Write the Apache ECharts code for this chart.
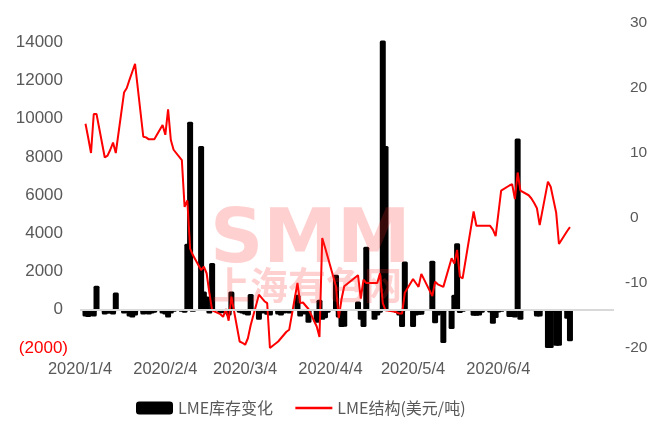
<!DOCTYPE html>
<html><head><meta charset="utf-8">
<script src="https://cdn.jsdelivr.net/npm/echarts@6/dist/echarts.min.js"></script>
<style>html,body{margin:0;padding:0;background:#fff}#c{width:671px;height:436px}</style>
</head><body><div id="c"></div>
<script>
// ---- data ----
const axisStart = '2020/1/4';
const axisEnd = '2020/7/16';
const xTickLabels = ['2020/1/4','2020/2/4','2020/3/4','2020/4/4','2020/5/4','2020/6/4'];

const dates = [
 '2020/1/6','2020/1/7','2020/1/8','2020/1/9','2020/1/10',
 '2020/1/13','2020/1/14','2020/1/15','2020/1/16','2020/1/17',
 '2020/1/20','2020/1/21','2020/1/22','2020/1/23','2020/1/24',
 '2020/1/27','2020/1/28','2020/1/29','2020/1/30','2020/1/31',
 '2020/2/3','2020/2/4','2020/2/5','2020/2/6','2020/2/7',
 '2020/2/10','2020/2/11','2020/2/12','2020/2/13','2020/2/14',
 '2020/2/17','2020/2/18','2020/2/19','2020/2/20','2020/2/21',
 '2020/2/24','2020/2/25','2020/2/26','2020/2/27','2020/2/28',
 '2020/3/2','2020/3/3','2020/3/4','2020/3/5','2020/3/6',
 '2020/3/9','2020/3/10','2020/3/11','2020/3/12','2020/3/13',
 '2020/3/16','2020/3/17','2020/3/18','2020/3/19','2020/3/20',
 '2020/3/23','2020/3/24','2020/3/25','2020/3/26','2020/3/27',
 '2020/3/30','2020/3/31','2020/4/1','2020/4/2','2020/4/3',
 '2020/4/6','2020/4/7','2020/4/8','2020/4/9',
 '2020/4/14','2020/4/15','2020/4/16','2020/4/17',
 '2020/4/20','2020/4/21','2020/4/22','2020/4/23','2020/4/24',
 '2020/4/27','2020/4/28','2020/4/29','2020/4/30','2020/5/1',
 '2020/5/4','2020/5/5','2020/5/6','2020/5/7',
 '2020/5/11','2020/5/12','2020/5/13','2020/5/14','2020/5/15',
 '2020/5/18','2020/5/19','2020/5/20','2020/5/21','2020/5/22',
 '2020/5/26','2020/5/27','2020/5/28','2020/5/29',
 '2020/6/1','2020/6/2','2020/6/3','2020/6/4','2020/6/5',
 '2020/6/8','2020/6/9','2020/6/10','2020/6/11','2020/6/12',
 '2020/6/15','2020/6/16','2020/6/17','2020/6/18','2020/6/19',
 '2020/6/22','2020/6/23','2020/6/24','2020/6/25','2020/6/26',
 '2020/6/29','2020/6/30'
];

// LME库存变化 (tonnes)
const stockChange = [
 -350,-380,-300,-350,1250,
 -250,-200,-200,-250,900,
 -200,-150,-350,-400,-300,
 -250,-200,-250,-200,-150,
 -200,-250,-400,-200,-100,
 -100,-150,3450,9830,-100,
 8560,950,700,-200,2440,
 -180,-150,-200,-300,950,
 -150,-200,-250,-300,830,
 -520,-200,-150,-260,-300,
 -250,-300,-200,-150,-200,
 780,-350,-200,-250,-680,
 -680,520,-520,-450,-150,
 1830,-400,-900,-890,
 430,-520,-900,3300,
 -520,-300,-150,14090,8560,
 -100,-150,-300,-900,2520,
 -900,-300,-260,-260,
 2570,-700,-300,-200,-1740,
 -1000,780,3480,-170,-100,
 -310,-310,-300,-150,
 -140,-730,-430,-140,-100,
 -380,-380,-400,8960,-520,
 -30,-30,-30,-350,-350,
 -2000,-2000,-100,-1880,-1880,
 -470,-1650
];

// LME结构 (美元/吨)
const spread = [
 14.5,12.3,10.0,16.0,16.0,
 9.3,9.6,10.5,11.6,10.0,
 19.3,20.0,21.3,22.5,23.7,
 12.5,12.4,12.1,12.1,12.1,
 14.3,12.8,16.7,12.0,10.5,
 8.9,1.7,2.7,-4.7,-5.7,
 -8.0,-7.5,-8.5,-11.5,-14.2,
 -14.8,-15.2,-14.0,-15.8,-12.1,
 -19.0,-19.2,-19.5,-18.5,-16.5,
 -11.8,-12.3,-12.8,-13.1,-20.0,
 -19.0,-18.5,-18.0,-17.5,-17.2,
 -10.0,-13.1,-13.0,-13.5,-14.0,
 -16.7,-18.3,-3.1,-4.5,-6.0,
 -10.5,-15.4,-12.5,-10.5,
 -8.8,-12.4,-9.5,-10.0,
 -10.0,-10.0,-8.5,-13.1,-14.2,
 -14.4,-14.5,-14.7,-14.7,-11.5,
 -9.4,-10.0,-10.6,-8.6,
 -12.0,-9.8,-10.2,-10.4,-10.6,
 -6.2,-7.0,-4.9,-9.0,-9.3,
 1.0,-1.2,-1.2,-1.2,
 -1.2,-1.8,-2.8,0.7,4.2,
 5.0,5.2,2.9,7.0,4.2,
 3.5,3.0,2.3,1.5,-1.1,
 5.6,4.8,2.8,0.8,-4.0,
 -2.0,-1.4
];

// ---- build calendar-day category axis ----
function parseD(s){const p=s.split('/').map(Number);return Date.UTC(p[0],p[1]-1,p[2]);}
function fmtD(t){const d=new Date(t);return d.getUTCFullYear()+'/'+(d.getUTCMonth()+1)+'/'+d.getUTCDate();}
const categories=[];
for(let t=parseD(axisStart);t<=parseD(axisEnd);t+=86400000){categories.push(fmtD(t));}
const idx={};dates.forEach((d,i)=>idx[d]=i);
const barData=categories.map(c=>idx[c]!==undefined?stockChange[idx[c]]:null);
const lineData=categories.map(c=>idx[c]!==undefined?spread[idx[c]]:null);

const FONT="'Liberation Sans', Arial, 'Noto Sans CJK SC', sans-serif";
const GREY='#595959';

const chart=echarts.init(document.getElementById('c'),null,{renderer:'canvas'});
chart.setOption({
  animation:false,
  backgroundColor:'#ffffff',
  textStyle:{fontFamily:FONT},
  grid:{left:80,right:57,top:23,bottom:88,containLabel:false},
  legend:{
    left:136, top:400, padding:0, itemWidth:37, itemHeight:13, itemGap:21,
    textStyle:{color:GREY,fontSize:16,fontFamily:"'Noto Sans CJK SC', 'Liberation Sans', sans-serif"},
    data:[
      {name:'LME库存变化',icon:'roundRect'},
      {name:'LME结构(美元/吨)',itemStyle:{opacity:0},lineStyle:{color:'#FF0000',width:2.5}}
    ]
  },
  xAxis:{
    type:'category', data:categories, boundaryGap:false,
    axisLine:{show:false,onZero:false}, axisTick:{show:false},
    splitLine:{show:false},
    axisLabel:{
      interval:(i,v)=>xTickLabels.indexOf(v)>=0,
      color:GREY, fontSize:16.5, margin:13, fontFamily:FONT
    }
  },
  yAxis:[{
    type:'value', min:-2000, max:15000, interval:2000, position:'left',
    splitLine:{show:false}, axisLine:{show:false}, axisTick:{show:false},
    axisLabel:{
      showMaxLabel:false, margin:12,
      formatter:v=>v===15000?'':(v<0?'{neg|('+Math.abs(v)+')}':'{pos|'+v+'}'),
      rich:{
        neg:{color:'#FF0000',fontSize:17,fontFamily:FONT},
        pos:{color:GREY,fontSize:17,fontFamily:FONT,padding:[0,5,0,0]}
      }
    }
  },{
    type:'value', min:-20, max:30, interval:10, position:'right',
    splitLine:{show:false}, axisLine:{show:false}, axisTick:{show:false},
    axisLabel:{
      margin:11,
      formatter:v=>v<0?'{neg|'+v+'}':'{pos|'+v+'}',
      rich:{
        neg:{color:GREY,fontSize:15.5,fontFamily:FONT},
        pos:{color:GREY,fontSize:15.5,fontFamily:FONT,padding:[0,0,0,5]}
      }
    }
  }],
  series:[{
    name:'LME库存变化', type:'bar', yAxisIndex:0, data:barData,
    barWidth:6, barGap:'-100%',
    itemStyle:{color:'#000000',borderRadius:1.5},
    z:2,
    markLine:{
      silent:true, symbol:'none', label:{show:false},
      lineStyle:{color:'#D9D9D9',width:2,type:'solid'},
      data:[{yAxis:0}]
    }
  },{
    name:'LME结构(美元/吨)', type:'line', yAxisIndex:1, data:lineData,
    connectNulls:true, symbol:'none', showSymbol:false,
    lineStyle:{color:'#FF0000',width:2}, itemStyle:{color:'#FF0000'},
    z:3
  }],
  graphic:[{
    type:'text', left:210, top:206, z:100, silent:true,
    style:{text:'SMM',font:"bold 74px 'DejaVu Sans', sans-serif",fill:'rgba(255,40,40,0.22)'}
  },{
    type:'text', left:212, top:266, z:100, silent:true,
    style:{text:'上海有色网',font:"bold 38px 'Noto Sans CJK SC', sans-serif",fill:'rgba(255,40,40,0.22)'}
  }]
});
</script></body></html>
